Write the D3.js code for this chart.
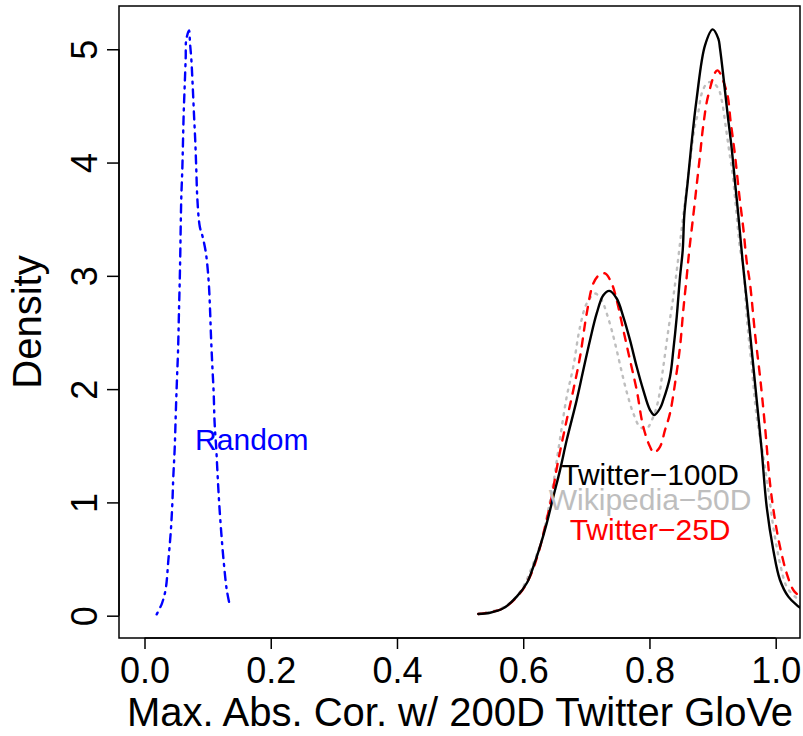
<html>
<head>
    <script src="https://d3js.org/d3.v7.min.js"></script>
    <style>
        body { margin: 0; background: #fff; }
        text { font-family: "Liberation Sans", Arial, Helvetica, sans-serif; }
    </style>
</head>
<body>
    <svg id="chart" width="803" height="736"></svg>
    <script>
        // density curves, [x, density]
        var randomCurve = [
            [0.0193, 0.012], [0.0277, 0.109], [0.0336, 0.236], [0.0377, 0.483], [0.0415, 0.732],
            [0.0440, 0.977], [0.0456, 1.221], [0.0478, 1.471], [0.0499, 1.844], [0.0515, 2.097],
            [0.0531, 2.329], [0.0547, 2.706], [0.0558, 2.953], [0.0567, 3.200], [0.0574, 3.447],
            [0.0583, 3.694], [0.0599, 3.941], [0.0610, 4.188], [0.0621, 4.435], [0.0637, 4.682],
            [0.0653, 4.929], [0.0660, 5.079], [0.0705, 5.167], [0.0721, 5.052], [0.0741, 4.920],
            [0.0764, 4.672], [0.0784, 4.425], [0.0805, 4.178], [0.0821, 3.931], [0.0837, 3.684],
            [0.0875, 3.437], [0.0922, 3.343], [0.0974, 3.197], [0.1017, 2.947], [0.1038, 2.706],
            [0.1054, 2.459], [0.1074, 2.212], [0.1096, 1.965], [0.1110, 1.711], [0.1138, 1.462],
            [0.1160, 1.221], [0.1185, 0.977], [0.1217, 0.727], [0.1255, 0.476], [0.1302, 0.233],
            [0.1355, 0.079]
        ];
        var twitter100 = [
            [0.5288, 0.015], [0.5474, 0.026], [0.5684, 0.065], [0.5897, 0.168], [0.6055, 0.286],
            [0.6160, 0.432], [0.6266, 0.609], [0.6372, 0.815], [0.6477, 1.050], [0.6583, 1.285],
            [0.6689, 1.550], [0.6847, 1.903], [0.6952, 2.168], [0.7058, 2.432], [0.7164, 2.668],
            [0.7269, 2.829], [0.7364, 2.867], [0.7481, 2.800], [0.7586, 2.638], [0.7692, 2.432],
            [0.7798, 2.197], [0.7902, 1.991], [0.8009, 1.815], [0.8077, 1.771], [0.8167, 1.830],
            [0.8219, 1.903], [0.8325, 2.108], [0.8378, 2.344], [0.8432, 2.638], [0.8484, 2.991],
            [0.8527, 3.226], [0.8552, 3.535], [0.8606, 3.829], [0.8658, 4.124], [0.8748, 4.565],
            [0.8880, 5.035], [0.9002, 5.176], [0.9091, 5.094], [0.9118, 5.006], [0.9181, 4.711],
            [0.9240, 4.417], [0.9303, 4.124], [0.9355, 3.829], [0.9408, 3.535], [0.9477, 3.123],
            [0.9541, 2.785], [0.9620, 2.344], [0.9699, 1.903], [0.9778, 1.462], [0.9857, 0.962],
            [0.9962, 0.580], [1.0068, 0.315], [1.0200, 0.168], [1.0333, 0.094], [1.0401, 0.065]
        ];
        var wiki50 = [
            [0.5288, 0.015], [0.5632, 0.059], [0.5843, 0.139], [0.6001, 0.256], [0.6160, 0.462],
            [0.6293, 0.668], [0.6397, 0.933], [0.6477, 1.168], [0.6556, 1.462], [0.6689, 1.932],
            [0.6793, 2.197], [0.6900, 2.550], [0.7006, 2.756], [0.7137, 2.844], [0.7243, 2.785],
            [0.7323, 2.668], [0.7402, 2.521], [0.7481, 2.344], [0.7560, 2.153], [0.7639, 1.976],
            [0.7744, 1.786], [0.7850, 1.667], [0.7956, 1.653], [0.8061, 1.756], [0.8140, 1.903],
            [0.8219, 2.197], [0.8299, 2.521], [0.8378, 2.814], [0.8440, 3.080], [0.8511, 3.418],
            [0.8563, 3.652], [0.8615, 3.888], [0.8669, 4.124], [0.8722, 4.329], [0.8774, 4.446],
            [0.8828, 4.609], [0.8907, 4.697], [0.8986, 4.711], [0.9091, 4.653], [0.9145, 4.550],
            [0.9213, 4.300], [0.9265, 4.094], [0.9319, 3.888], [0.9371, 3.594], [0.9435, 3.241],
            [0.9487, 3.079], [0.9541, 2.638], [0.9620, 2.197], [0.9699, 1.756], [0.9804, 1.403],
            [0.9883, 1.109], [0.9962, 0.785], [1.0068, 0.462], [1.0174, 0.256], [1.0306, 0.168],
            [1.0385, 0.139]
        ];
        var twitter25 = [
            [0.5288, 0.015], [0.5684, 0.065], [0.5949, 0.198], [0.6107, 0.344], [0.6239, 0.551],
            [0.6345, 0.785], [0.6451, 1.050], [0.6556, 1.374], [0.6689, 1.727], [0.6793, 1.991],
            [0.6900, 2.285], [0.7006, 2.668], [0.7110, 2.932], [0.7201, 3.006], [0.7296, 3.021],
            [0.7402, 2.932], [0.7481, 2.785], [0.7586, 2.521], [0.7692, 2.256], [0.7798, 1.991],
            [0.7902, 1.667], [0.8009, 1.491], [0.8072, 1.438], [0.8167, 1.491], [0.8246, 1.638],
            [0.8325, 1.786], [0.8405, 2.050], [0.8484, 2.373], [0.8536, 2.697], [0.8590, 2.991],
            [0.8631, 3.226], [0.8695, 3.535], [0.8748, 3.800], [0.8801, 4.065], [0.8853, 4.329],
            [0.8932, 4.594], [0.9075, 4.814], [0.9224, 4.623], [0.9287, 4.358], [0.9355, 4.065],
            [0.9423, 3.712], [0.9487, 3.418], [0.9541, 3.123], [0.9593, 2.932], [0.9672, 2.491],
            [0.9752, 2.109], [0.9831, 1.667], [0.9910, 1.168], [0.9989, 0.844], [1.0068, 0.609],
            [1.0174, 0.374], [1.0279, 0.227], [1.0385, 0.168]
        ];

        var xTicks = [0, 0.2, 0.4, 0.6, 0.8, 1.0];
        var yTicks = [0, 1, 2, 3, 4, 5];

        // series styling + text() labels (x, y in data units, y = baseline)
        var series = [
            { name: 'Random', values: randomCurve, color: '#0000ff', dash: '2,6,8,6', lx: 0.170, ly: 1.462 },
            { name: 'Wikipedia\u221250D', values: wiki50, color: '#bebebe', dash: '2,6', lx: 0.801, ly: 0.937 },
            { name: 'Twitter\u221225D', values: twitter25, color: '#ff0000', dash: '8,8', lx: 0.801, ly: 0.668 },
            { name: 'Twitter\u2212100D', values: twitter100, color: '#000000', dash: null, lx: 0.801, ly: 1.157 }
        ];

        var width = 803, height = 736;
        var plotLeft = 119, plotRight = 800, plotTop = 6, plotBottom = 638;

        var x = d3.scaleLinear().domain([-0.0404, 1.0385]).range([plotLeft, plotRight]);
        var y = d3.scaleLinear().domain([-0.197, 5.382]).range([plotBottom, plotTop]);

        var svg = d3.select('#chart');

        svg.append('clipPath').attr('id', 'plotClip')
            .append('rect')
            .attr('x', plotLeft).attr('y', plotTop)
            .attr('width', plotRight - plotLeft).attr('height', plotBottom - plotTop);

        var line = d3.line()
            .x(function(d) { return x(d[0]); })
            .y(function(d) { return y(d[1]); })
            .curve(d3.curveCatmullRom);

        svg.append('g').attr('clip-path', 'url(#plotClip)')
            .selectAll('path')
            .data(series)
            .enter()
            .append('path')
            .attr('d', function(d) { return line(d.values); })
            .attr('fill', 'none')
            .attr('stroke', function(d) { return d.color; })
            .attr('stroke-width', 2.4)
            .attr('stroke-linecap', 'round')
            .attr('stroke-dasharray', function(d) { return d.dash; });

        svg.selectAll('text.lbl')
            .data(series)
            .enter()
            .append('text')
            .attr('class', 'lbl')
            .attr('x', function(d) { return x(d.lx); })
            .attr('y', function(d) { return y(d.ly); })
            .attr('text-anchor', 'middle')
            .attr('font-size', 30)
            .attr('fill', function(d) { return d.color; })
            .text(function(d) { return d.name; });

        // axes
        var xAxis = svg.append('g')
            .attr('transform', 'translate(0,' + plotBottom + ')')
            .call(d3.axisBottom(x).tickValues(xTicks).tickSize(11).tickPadding(6)
                .tickFormat(d3.format('.1f')));

        var yAxis = svg.append('g')
            .attr('transform', 'translate(' + plotLeft + ',0)')
            .call(d3.axisLeft(y).tickValues(yTicks).tickSize(12).tickFormat(d3.format('d')));

        [xAxis, yAxis].forEach(function(g) {
            g.select('.domain').remove();
            g.selectAll('line').attr('stroke', '#000').attr('stroke-width', 1.5);
            g.selectAll('text').attr('font-size', 36).attr('fill', '#000')
                .attr('font-family', '"Liberation Sans", Arial, sans-serif');
        });

        xAxis.selectAll('text').attr('dy', null).attr('y', 45);

        // R style: y labels parallel to the axis
        yAxis.selectAll('text')
            .attr('x', null).attr('dy', null)
            .attr('text-anchor', 'middle')
            .attr('transform', 'translate(-22,0) rotate(-90)')
            .attr('y', 0);

        // axis lines like R: from first to last tick
        svg.append('line')
            .attr('x1', x(0)).attr('x2', x(1)).attr('y1', plotBottom).attr('y2', plotBottom)
            .attr('stroke', '#000').attr('stroke-width', 1.5);
        svg.append('line')
            .attr('x1', plotLeft).attr('x2', plotLeft).attr('y1', y(0)).attr('y2', y(5))
            .attr('stroke', '#000').attr('stroke-width', 1.5);

        svg.append('rect')
            .attr('x', plotLeft).attr('y', plotTop)
            .attr('width', plotRight - plotLeft).attr('height', plotBottom - plotTop)
            .attr('fill', 'none').attr('stroke', '#000').attr('stroke-width', 1.5);

        svg.append('text')
            .attr('x', 460)
            .attr('y', 726)
            .attr('text-anchor', 'middle')
            .attr('font-size', 40)
            .text('Max. Abs. Cor. w/ 200D Twitter GloVe');

        svg.append('text')
            .attr('transform', 'translate(41,' + ((plotTop + plotBottom) / 2) + ') rotate(-90)')
            .attr('text-anchor', 'middle')
            .attr('font-size', 40)
            .text('Density');
    </script>
</body>
</html>
